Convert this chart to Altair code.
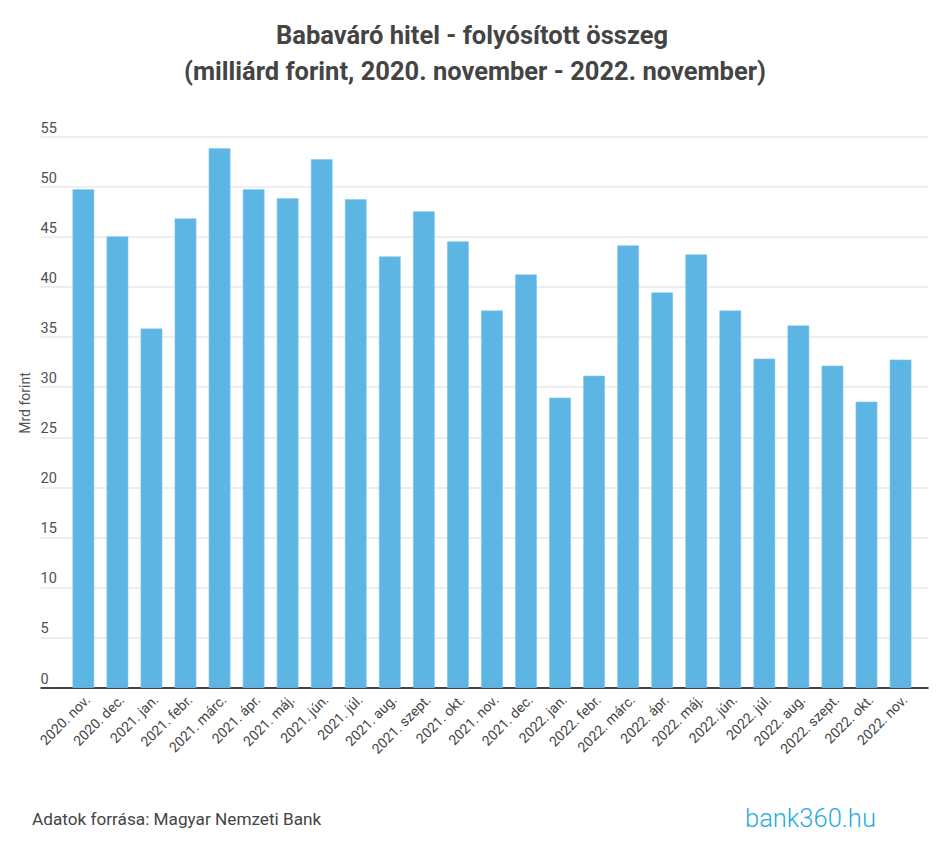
import altair as alt
import pandas as pd

months = ["2020. nov.", "2020. dec.", "2021. jan.", "2021. febr.", "2021. márc.",
          "2021. ápr.", "2021. máj.", "2021. jún.", "2021. júl.", "2021. aug.",
          "2021. szept.", "2021. okt.", "2021. nov.", "2021. dec.", "2022. jan.",
          "2022. febr.", "2022. márc.", "2022. ápr.", "2022. máj.", "2022. jún.",
          "2022. júl.", "2022. aug.", "2022. szept.", "2022. okt.", "2022. nov."]
values = [49.7, 45.0, 35.8, 46.8, 53.8,
          49.7, 48.8, 52.7, 48.7, 43.0,
          47.5, 44.5, 37.6, 41.2, 28.9,
          31.1, 44.1, 39.4, 43.2, 37.6,
          32.8, 36.1, 32.1, 28.5, 32.7]
y_ticks = [0, 5, 10, 15, 20, 25, 30, 35, 40, 45, 50, 55]

title_lines = ["Babaváró hitel - folyósított összeg",
               "(milliárd forint, 2020. november - 2022. november)"]
source_text = "Adatok forrása: Magyar Nemzeti Bank"
logo_text = "bank360.hu"

df = pd.DataFrame({"honap": months, "ertek": values})

FONT = "Roboto"

bars = alt.Chart(df).mark_bar(color="#5DB5E4", stroke="#86C8EC", strokeWidth=0.6).encode(
    x=alt.X("honap:N", sort=months,
            scale=alt.Scale(paddingInner=0.38, paddingOuter=0.73, align=0.66),
            axis=alt.Axis(title=None, labelAngle=-45, labelFontSize=14, labelColor="#444444",
                          labelFont=FONT, ticks=False, tickSize=0, labelPadding=5,
                          domainColor="#444444", domainWidth=2, grid=False)),
    y=alt.Y("ertek:Q", scale=alt.Scale(domain=[0, 55], nice=False),
            axis=alt.Axis(title="Mrd forint", values=y_ticks, ticks=False, tickSize=0,
                          domain=False, grid=True, gridColor="#DDDDDD", gridWidth=1,
                          labelAlign="left", labelBaseline="alphabetic", labelPadding=0,
                          labelOffset=-4.5, labelFontSize=14.5, labelColor="#505050",
                          labelFont=FONT,
                          titleFont=FONT, titleFontSize=14, titleFontWeight="normal",
                          titleColor="#555555", titleX=-15, titleY=266,
                          titleBaseline="middle", titleAngle=270)),
)


def text_layer(txt, x, y, size, weight, color, align):
    return alt.Chart(pd.DataFrame({"t": [txt]})).mark_text(
        font=FONT, fontSize=size, fontWeight=weight, color=color, align=align,
        baseline="alphabetic"
    ).encode(text="t:N", x=alt.value(x), y=alt.value(y))


t1 = text_layer(title_lines[0], 432, -93, 25.5, "bold", "#444444", "center")
t2 = text_layer(title_lines[1], 435, -56.5, 25.5, "bold", "#444444", "center")
src = text_layer(source_text, -8, 688.5, 17.2, "normal", "#444444", "left")
logo = text_layer(logo_text, 705, 690.5, 25.5, 300, "#29ABE2", "left")

chart = alt.layer(bars, t1, t2, src, logo).properties(
    width=888, height=551,
    autosize=alt.AutoSizeParams(type="none"),
    padding={"left": 32, "top": 128.5, "right": 4, "bottom": 155},
    background="white",
).configure_view(strokeWidth=0)

chart.save("out.html", embed_options={"renderer": "svg", "actions": False})
